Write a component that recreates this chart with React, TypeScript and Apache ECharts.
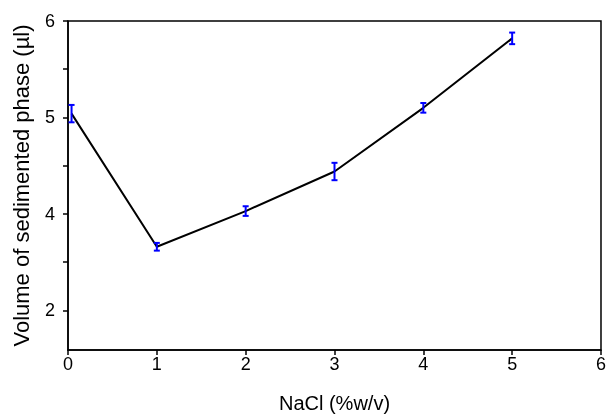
import React, { useEffect, useRef } from "react";
import * as echarts from "echarts";

const nacl = [0.04, 1, 2, 3, 4, 5];
const volume = [5.04, 3.66, 4.03, 4.44, 5.1, 5.82];
const errors = [0.09, 0.04, 0.05, 0.09, 0.05, 0.06];
const yTicks = [3, 3.5, 4, 4.5, 5, 5.5, 6];
const yLabelValues = [3, 4, 5, 6];
const yLabelText = ["2", "4", "5", "6"];

export default function App() {
  const ref = useRef<HTMLDivElement>(null);
  useEffect(() => {
    const chart = echarts.init(ref.current!, null, { renderer: "svg" });
    const font = "Liberation Sans, Arial, sans-serif";
    chart.setOption({
      animation: false,
      grid: { left: 68, right: 7, top: 21, bottom: 67, show: true, borderColor: "#000", borderWidth: 1.5 },
      xAxis: {
        type: "value", min: 0, max: 6, interval: 1,
        name: "NaCl (%w/v)", nameLocation: "middle", nameGap: 43,
        nameTextStyle: { fontFamily: font, fontSize: 20, color: "#000" },
        axisLine: { lineStyle: { color: "#000", width: 1.5 } },
        axisTick: { inside: false, length: 5, lineStyle: { color: "#000", width: 1.5 } },
        axisLabel: { fontFamily: font, fontSize: 18, color: "#000", margin: 5 },
        splitLine: { show: false },
      },
      yAxis: {
        type: "value", min: 2.59, max: 6,
        name: "Volume of sedimented phase (µl)", nameLocation: "middle", nameGap: 36,
        nameTextStyle: { fontFamily: font, fontSize: 22, color: "#000" },
        axisLine: { lineStyle: { color: "#000", width: 1.5 } },
        axisTick: { inside: false, length: 5, customValues: yTicks, lineStyle: { color: "#000", width: 1.5 } },
        axisLabel: {
          fontFamily: font, fontSize: 18, color: "#000", margin: 13,
          customValues: yLabelValues,
          formatter: (v: number) => yLabelText[yLabelValues.indexOf(v)] ?? "",
        },
        splitLine: { show: false },
      },
      series: [
        {
          type: "line",
          data: nacl.map((x, i) => [x, volume[i]]),
          showSymbol: false,
          lineStyle: { color: "#000", width: 2 },
          z: 2,
        },
        {
          type: "custom",
          data: nacl.map((x, i) => [x, volume[i] - errors[i], volume[i] + errors[i]]),
          renderItem: (params: any, api: any) => {
            const x = api.value(0);
            const lo = api.coord([x, api.value(1)]);
            const hi = api.coord([x, api.value(2)]);
            const w = 3;
            const style = { stroke: "#0000ff", lineWidth: 2, fill: "none" };
            return {
              type: "group",
              children: [
                { type: "line", shape: { x1: lo[0], y1: lo[1], x2: hi[0], y2: hi[1] }, style },
                { type: "line", shape: { x1: lo[0] - w, y1: lo[1], x2: lo[0] + w, y2: lo[1] }, style },
                { type: "line", shape: { x1: hi[0] - w, y1: hi[1], x2: hi[0] + w, y2: hi[1] }, style },
              ],
            };
          },
          z: 3,
        },
      ],
    });
    return () => chart.dispose();
  }, []);
  return <div ref={ref} style={{ position: "fixed", left: 0, top: 0, width: 609, height: 418 }} />;
}
